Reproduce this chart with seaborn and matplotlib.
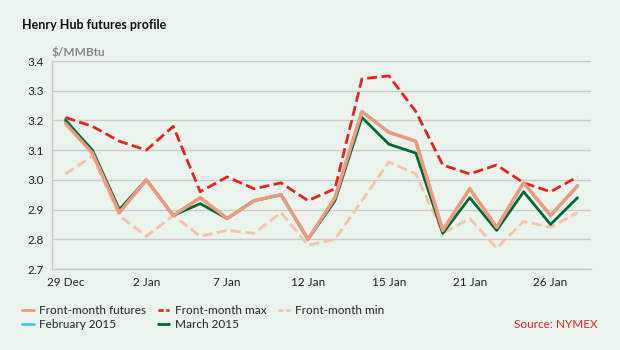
import matplotlib.pyplot as plt
import numpy as np
import pandas as pd
import seaborn as sns

sns.set_theme(style='white')
plt.rcParams['font.family'] = ['Lato', 'DejaVu Sans']

dates = ['29 Dec', '30 Dec', '31 Dec', '2 Jan', '5 Jan', '6 Jan', '7 Jan', '8 Jan', '9 Jan', '12 Jan',
         '13 Jan', '14 Jan', '15 Jan', '16 Jan', '20 Jan', '21 Jan', '22 Jan', '23 Jan', '26 Jan', '27 Jan']
front_month = [3.19, 3.09, 2.89, 3.00, 2.88, 2.94, 2.87, 2.93, 2.95, 2.80,
               2.94, 3.23, 3.16, 3.13, 2.83, 2.97, 2.84, 2.99, 2.88, 2.98]
front_max = [3.21, 3.18, 3.13, 3.10, 3.18, 2.96, 3.01, 2.97, 2.99, 2.93,
             2.97, 3.34, 3.35, 3.23, 3.05, 3.02, 3.05, 2.99, 2.96, 3.01]
front_min = [3.02, 3.08, 2.88, 2.81, 2.88, 2.81, 2.83, 2.82, 2.89, 2.78,
             2.80, 2.93, 3.06, 3.02, 2.82, 2.87, 2.77, 2.86, 2.84, 2.89]
feb_2015 = [3.205, 3.09, 2.89, 3.00, 2.88, 2.94, 2.87, 2.93, 2.95, 2.80,
            2.94, 3.23, 3.16, 3.13, 2.83, 2.97, 2.84, 2.99, 2.88, 2.98]
mar_2015 = [3.20, 3.10, 2.90, 3.00, 2.88, 2.92, 2.87, 2.93, 2.95, 2.80,
            2.93, 3.21, 3.12, 3.09, 2.82, 2.94, 2.83, 2.96, 2.85, 2.94]
yticks = [2.7, 2.8, 2.9, 3.0, 3.1, 3.2, 3.3, 3.4]

bg = '#EAF4EC'
df = pd.DataFrame({'day': np.arange(len(dates)), 'date': dates,
                   'Front-month futures': front_month, 'Front-month max': front_max,
                   'Front-month min': front_min, 'February 2015': feb_2015,
                   'March 2015': mar_2015})

fig = plt.figure(figsize=(6.2, 3.5), dpi=100, facecolor=bg)
ax = fig.add_axes([52/620, 1 - 269/350, (591-52)/620, (269-61)/350])
ax.set_facecolor(bg)

dash = (3.6, 1.6)
sns.lineplot(data=df, x='day', y='February 2015', ax=ax, color='#4DC4EE', lw=2, label='February 2015')
sns.lineplot(data=df, x='day', y='Front-month max', ax=ax, color='#E8221E', lw=2,
             label='Front-month max').lines[-1].set_dashes(dash)
sns.lineplot(data=df, x='day', y='Front-month min', ax=ax, color='#F9C2A8', lw=2,
             label='Front-month min').lines[-1].set_dashes(dash)
sns.lineplot(data=df, x='day', y='March 2015', ax=ax, color='#006A35', lw=2, label='March 2015')
sns.lineplot(data=df, x='day', y='Front-month futures', ax=ax, color='#EE9A80', lw=2.5,
             label='Front-month futures')

ax.set_xlim(-0.5, len(dates) - 0.5)
ax.set_ylim(2.7, 3.4)
ax.set_yticks(yticks)
ax.set_yticklabels([f'{v:.1f}' for v in yticks])
ax.set_xticks(df['day'][::3])
ax.set_xticklabels(df['date'][::3])
ax.tick_params(axis='both', length=0, labelsize=8.5, colors='#222222', pad=6)
ax.set_xlabel(None)
ax.set_ylabel(None)
ax.grid(axis='y', color='#CCCCCC', lw=1)
sns.despine(ax=ax, top=True, right=True)
for s in ['left', 'bottom']:
    ax.spines[s].set_color('#C8C8C8')
    ax.spines[s].set_linewidth(1)

handles, labels = ax.get_legend_handles_labels()
ax.get_legend().remove()
order = ['Front-month futures', 'February 2015', 'Front-month max', 'March 2015', 'Front-month min']
h = [handles[labels.index(o)] for o in order]
leg = fig.legend(h, order, ncol=3, loc='upper left', bbox_to_anchor=(17/620, 1 - 300/350),
                 frameon=False, fontsize=8.5, handlelength=1.0, handletextpad=0.45,
                 columnspacing=1.0, labelspacing=0.3, borderaxespad=0)
for line in leg.get_lines():
    line.set_linewidth(2)
    if line.get_linestyle() != '-':
        line.set_dashes((1.8, 1.0))

fig.text(22/620, 1 - 25/350, 'Henry Hub futures profile', fontsize=9, fontweight='bold',
         color='#111111', va='center')
fig.text(52/620, 1 - 52/350, '$/MMBtu', fontsize=8.5, fontweight='bold', color='#888888', va='center')
fig.text(598/620, 1 - 324/350, 'Source: NYMEX', fontsize=8.5, color='#E8221E', ha='right', va='center')

plt.savefig('out.png', dpi=100, facecolor=bg)
